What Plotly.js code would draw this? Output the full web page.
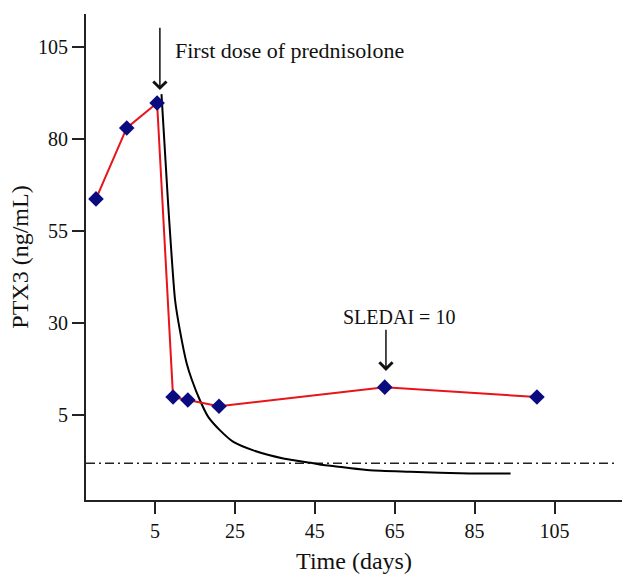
<!DOCTYPE html>
<html>
<head>
<meta charset="utf-8">
<script src="https://cdn.plot.ly/plotly-3.0.1.min.js"></script>
<style>
  html, body { margin: 0; padding: 0; background: #fff; }
  #chart { width: 636px; height: 588px; }
</style>
</head>
<body>
<div id="chart"></div>
<script>
// PTX3 measurements (red line, diamonds)
const ptxDays = [-9.8, -2.1, 5.5, 9.5, 13.2, 21.0, 62.5, 100.6];
const ptxValues = [63.7, 83.0, 89.8, 9.8, 9.0, 7.3, 12.5, 9.8];

// Expected decay curve (black line)
const decayDays = [6.6, 8.2, 10.0, 11.2, 12.9, 14.2, 16.2, 18.3, 21.2, 24.6, 29.6, 37.1, 44.6, 47.1, 52.1, 58.8, 68.8, 83.8, 94.0];
const decayValues = [92.2, 63.4, 36.2, 28.0, 19.0, 14.5, 9.0, 4.4, 0.8, -2.4, -4.7, -6.9, -8.2, -8.7, -9.3, -10.1, -10.5, -11.0, -11.0];

// Reference level (dash-dot)
const refDays = [-12.3, 120.2];
const refValues = [-8.2, -8.2];

const xTicks = [5, 25, 45, 65, 85, 105];
const yTicks = [5, 30, 55, 80, 105];

const serif = 'Liberation Serif, Times New Roman, serif';

const data = [
  {
    type: 'scatter', mode: 'lines',
    x: refDays, y: refValues,
    line: { color: '#222', width: 1.5, dash: '9px,4px,2px,4px' },
    hoverinfo: 'skip'
  },
  {
    type: 'scatter', mode: 'lines',
    x: decayDays, y: decayValues,
    line: { color: '#000', width: 2, shape: 'spline', smoothing: 0.6 }
  },
  {
    type: 'scatter', mode: 'lines+markers',
    x: ptxDays, y: ptxValues,
    line: { color: '#e8141a', width: 2 },
    marker: { symbol: 'diamond', size: 12, color: '#0b0b80' }
  }
];

const layout = {
  width: 636,
  height: 588,
  showlegend: false,
  paper_bgcolor: '#fff',
  plot_bgcolor: '#fff',
  margin: { l: 86, r: 14, t: 14, b: 88 },
  font: { family: serif, size: 20, color: '#111' },
  xaxis: {
    range: [-12.3, 121.9],
    tickvals: xTicks,
    ticks: 'outside', ticklen: 12, tickwidth: 2, tickcolor: '#222',
    showline: true, linecolor: '#222', linewidth: 2,
    showgrid: false, zeroline: false,
    title: { text: 'Time (days)', standoff: 11 }
  },
  yaxis: {
    range: [-18.2, 114],
    tickvals: yTicks,
    ticks: 'outside', ticklen: 12, tickwidth: 2, tickcolor: '#222',
    showline: true, linecolor: '#222', linewidth: 2,
    showgrid: false, zeroline: false,
    title: { text: 'PTX3 (ng/mL)', standoff: 3 }
  },
  annotations: [
    {
      x: 6.2, y: 93.3, ax: 6.2, ay: 110.7, axref: 'x', ayref: 'y',
      text: '', showarrow: true, arrowhead: 4, arrowsize: 1.7, arrowwidth: 1.5,
      arrowcolor: '#111', standoff: 0, startstandoff: 0
    },
    {
      x: 9.5, y: 104.2, xanchor: 'left', yanchor: 'middle',
      text: 'First dose of prednisolone', showarrow: false,
      font: { size: 22 }
    },
    {
      x: 62.8, y: 16.9, ax: 62.8, ay: 28.5, axref: 'x', ayref: 'y',
      text: '', showarrow: true, arrowhead: 4, arrowsize: 1.7, arrowwidth: 1.5,
      arrowcolor: '#111', standoff: 0, startstandoff: 0
    },
    {
      x: 66.1, y: 31.6, xanchor: 'center', yanchor: 'middle',
      text: 'SLEDAI = 10', showarrow: false
    }
  ]
};

Plotly.newPlot('chart', data, layout, { staticPlot: true });
</script>
</body>
</html>
